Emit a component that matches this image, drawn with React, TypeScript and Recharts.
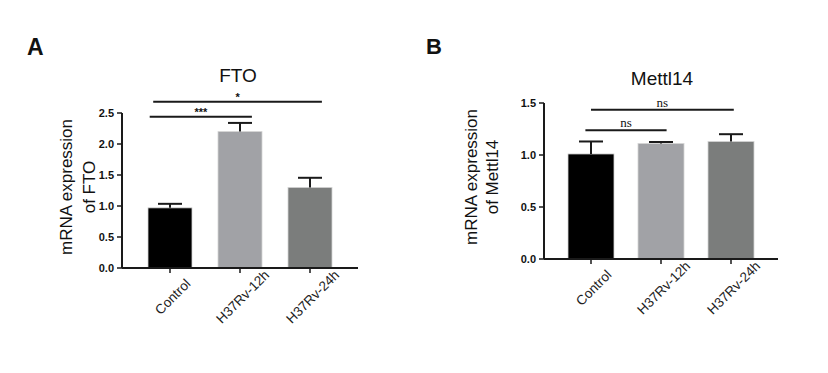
import { BarChart, Bar, XAxis, YAxis, ReferenceLine } from "recharts"

const categories = ["Control", "H37Rv-12h", "H37Rv-24h"]

const ftoMean = [0.97, 2.2, 1.3]
const ftoSem = [0.065, 0.14, 0.155]
const ftoTicks = [0, 0.5, 1, 1.5, 2, 2.5]

const mettlMean = [1.01, 1.11, 1.13]
const mettlSem = [0.12, 0.015, 0.07]
const mettlTicks = [0, 0.5, 1, 1.5]

const barColors = ["#000000", "#a1a2a6", "#7b7d7c"]

// significance brackets, x in category-centre units (0 = first bar centre, 2 = last)
const ftoBrackets = [
  { from: -0.29, to: 1.17, y: 2.44, text: "***" },
  { from: -0.24, to: 2.17, y: 2.68, text: "*" },
]
const mettlBrackets = [
  { from: -0.08, to: 1.08, y: 1.237, text: "ns" },
  { from: 0.0, to: 2.04, y: 1.436, text: "ns" },
]

const ftoData = categories.map((c, i) => ({ name: c, mean: ftoMean[i], sem: ftoSem[i], color: barColors[i] }))
const mettlData = categories.map((c, i) => ({ name: c, mean: mettlMean[i], sem: mettlSem[i], color: barColors[i] }))

const ink = "#1a1a1a"
const sans = "'Liberation Sans', Arial, sans-serif"
const serif = "'Liberation Serif', 'Times New Roman', serif"

const BarWithError = (props: any) => {
  const { x, y, width, height, payload } = props
  const perUnit = height / payload.mean
  const top = y - payload.sem * perUnit
  const cx = x + width / 2
  return (
    <g>
      <rect x={x} y={y} width={width} height={height} fill={payload.color} stroke="#d4d4d4" strokeWidth={0.8} />
      <line x1={cx} x2={cx} y1={y} y2={top} stroke={ink} strokeWidth={2} />
      <line x1={cx - 12} x2={cx + 12} y1={top} y2={top} stroke={ink} strokeWidth={2} />
    </g>
  )
}

const AngledTick = (props: any) => {
  const { x, y, payload } = props
  const tx = x + 6
  const ty = y + 25
  return (
    <text x={tx} y={ty} textAnchor="middle" transform={`rotate(-45, ${tx}, ${ty})`} fontSize={13.5} fill="#222" fontFamily={sans}>
      {payload.value}
    </text>
  )
}

const Panel = (p: {
  data: any[]
  ticks: number[]
  max: number
  brackets: { from: number; to: number; y: number; text: string }[]
  margin: any
  barSize: number
  pad: number
  starFont: boolean
}) => (
  <BarChart width={414} height={373} data={p.data} margin={p.margin}>
    <XAxis
      dataKey="name"
      height={60}
      padding={{ left: p.pad, right: p.pad }}
      axisLine={{ stroke: ink, strokeWidth: 2 }}
      tickLine={{ stroke: ink, strokeWidth: 1.5 }}
      tickSize={5}
      tickMargin={2}
      interval={0}
      tick={<AngledTick />}
    />
    <XAxis
      xAxisId="pos"
      type="number"
      domain={[0, 2]}
      allowDataOverflow
      hide
      padding={{ left: p.pad + 35, right: p.pad + 35 }}
    />
    <YAxis
      width={40}
      domain={[0, p.max]}
      ticks={p.ticks}
      tickFormatter={(v: number) => v.toFixed(1)}
      axisLine={{ stroke: ink, strokeWidth: 2 }}
      tickLine={{ stroke: ink, strokeWidth: 1.5 }}
      tickSize={5}
      tickMargin={3}
      tick={{ fill: "#111", fontSize: 11, fontWeight: 700, fontFamily: sans }}
    />
    <Bar dataKey="mean" barSize={p.barSize} shape={<BarWithError />} isAnimationActive={false} />
    {p.brackets.map((b, i) => (
      <ReferenceLine
        key={i}
        xAxisId="pos"
        segment={[{ x: b.from, y: b.y }, { x: b.to, y: b.y }]}
        stroke={ink}
        strokeWidth={2}
        ifOverflow="visible"
        label={{
          value: b.text,
          position: "top",
          offset: p.starFont ? 1 : 3,
          fill: "#111",
          fontSize: p.starFont ? 11 : 13,
          fontWeight: p.starFont ? 700 : 400,
          fontFamily: p.starFont ? sans : serif,
        }}
      />
    ))}
  </BarChart>
)

export default function App() {
  return (
    <div style={{ position: "absolute", left: 0, top: 0, width: 828, height: 373, background: "#fff" }}>
      <div style={{ position: "absolute", left: 0, top: 0 }}>
        <Panel
          data={ftoData}
          ticks={ftoTicks}
          max={2.5}
          brackets={ftoBrackets}
          margin={{ top: 113, right: 56, bottom: 45, left: 82 }}
          barSize={44}
          pad={13}
          starFont={true}
        />
      </div>
      <div style={{ position: "absolute", left: 414, top: 0 }}>
        <Panel
          data={mettlData}
          ticks={mettlTicks}
          max={1.5}
          brackets={mettlBrackets}
          margin={{ top: 103, right: 50, bottom: 54, left: 90 }}
          barSize={46}
          pad={12}
          starFont={false}
        />
      </div>
      <svg width={828} height={373} style={{ position: "absolute", left: 0, top: 0, pointerEvents: "none" }}>
        <text x={27} y={55} fontSize={23} fontWeight={700} fontFamily={sans} fill="#111">A</text>
        <text x={426} y={54} fontSize={22} fontWeight={700} fontFamily={sans} fill="#111">B</text>
        <text x={238} y={82} fontSize={19} textAnchor="middle" fontFamily={sans} fill="#111">FTO</text>
        <text x={662} y={85} fontSize={19} textAnchor="middle" fontFamily={sans} fill="#111">Mettl14</text>
        <text x={72} y={187} fontSize={17} textAnchor="middle" fontFamily={sans} fill="#111" transform="rotate(-90, 72, 187)">mRNA expression</text>
        <text x={95} y={187} fontSize={17} textAnchor="middle" fontFamily={sans} fill="#111" transform="rotate(-90, 95, 187)">of FTO</text>
        <text x={477} y={177} fontSize={17} textAnchor="middle" fontFamily={sans} fill="#111" transform="rotate(-90, 477, 177)">mRNA expression</text>
        <text x={498} y={177} fontSize={17} textAnchor="middle" fontFamily={sans} fill="#111" transform="rotate(-90, 498, 177)">of Mettl14</text>
      </svg>
    </div>
  )
}
